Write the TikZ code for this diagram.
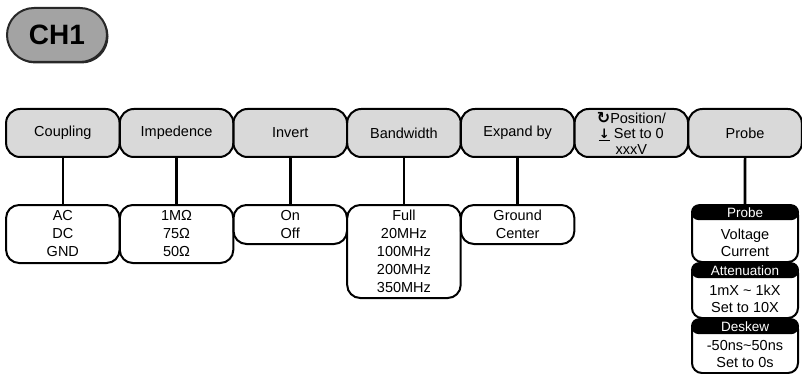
\documentclass[tikz,border=0pt]{standalone}
\usepackage{fontspec}
\setmainfont{Liberation Sans}
\newfontfamily\symfont{DejaVu Sans}
\usetikzlibrary{positioning,shadows}
\definecolor{keyfill}{RGB}{217,217,217}
\definecolor{chfill}{RGB}{163,163,163}
\definecolor{chedge}{RGB}{40,40,40}
\newcommand{\rotknob}{{\symfont\bfseries\fontsize{16}{15.5}\selectfont ↻}}
\newcommand{\setzero}{{\symfont\bfseries\fontsize{13}{15.5}\selectfont\underline{↓}}}

\begin{document}
\begin{tikzpicture}[x=1pt,y=-1pt,font=\fontsize{14.5}{18}\selectfont,
  menukey/.style={draw=black,line width=2pt,fill=keyfill,rounded corners=14pt,
    minimum width=113.5pt,minimum height=48pt,inner sep=0pt,align=center},
  optbox/.style={draw=black,line width=2pt,fill=white,rounded corners=13pt,
    minimum width=113.5pt,inner sep=0pt,align=center,anchor=north},
  probebox/.style={draw=black,line width=2pt,fill=white,rounded corners=10pt,
    minimum width=106pt,inner sep=0pt,anchor=north},
  probehead/.style={fill=black,text=white,rounded corners=8pt,minimum width=108pt,
    minimum height=16pt,inner sep=0pt,anchor=north,font=\fontsize{13.5}{15}\selectfont},
  probetext/.style={align=center,inner sep=0pt,font=\fontsize{14.5}{17}\selectfont},
  link/.style={line width=2.6pt}]
  \useasboundingbox (0,0) rectangle (802,374);

  % channel key
  \node[font=\bfseries\fontsize{28}{30}\selectfont,fill=chfill,draw=chedge,line width=2pt,
    rounded corners=27pt,minimum width=100pt,minimum height=54pt,
    drop shadow={shadow xshift=1.5pt,shadow yshift=-1.5pt,fill=chedge,opacity=1}]
    (ch1) at (57,35) {CH1};

  % soft menu keys
  \node[menukey] (coupling) at (62.85,133) {Coupling};
  \node[menukey] (impedence) at (176.55,133) {Impedence};
  \node[menukey] (invert) at (290.25,133) {Invert};
  \node[menukey] (bandwidth) at (403.95,133) {Bandwidth};
  \node[menukey] (expand) at (517.65,133) {Expand by};
  \node[menukey,font=\fontsize{14.5}{15.5}\selectfont] (position) at (631.35,133)
    {\rotknob Position/\\\setzero\ Set to 0\\xxxV};
  \node[menukey] (probe) at (745.05,133) {Probe};

  % option lists
  \node[optbox,minimum height=58pt] (couplingopt) at (62.85,204) {AC\\DC\\GND};
  \node[optbox,minimum height=58pt] (impedenceopt) at (176.55,204) {1MΩ\\75Ω\\50Ω};
  \node[optbox,minimum height=39pt] (invertopt) at (290.25,204) {On\\Off};
  \node[optbox,minimum height=93pt] (bandwidthopt) at (403.95,204) {Full\\20MHz\\100MHz\\200MHz\\350MHz};
  \node[optbox,minimum height=39pt] (expandopt) at (517.65,204) {Ground\\Center};

  % probe settings
  \node[probebox,minimum height=57pt] (probegrp) at (745,204) {};
  \node[probehead] (probehd) at (probegrp.north) {Probe};
  \node[probetext] (probeopt) at ([yshift=-9pt]probegrp.center) {Voltage\\Current};
  \node[probebox,minimum height=55pt] (attengrp) at (745,262) {};
  \node[probehead] (attenhd) at (attengrp.north) {Attenuation};
  \node[probetext] (attenopt) at ([yshift=-8pt]attengrp.center) {1mX \char`~{} 1kX\\Set to 10X};
  \node[probebox,minimum height=54pt] (deskewgrp) at (745,318) {};
  \node[probehead] (deskewhd) at (deskewgrp.north) {Deskew};
  \node[probetext] (deskewopt) at ([yshift=-8pt]deskewgrp.center) {-50ns\char`~50ns\\Set to 0s};

  \draw[link] (coupling) -- (couplingopt);
  \draw[link] (impedence) -- (impedenceopt);
  \draw[link] (invert) -- (invertopt);
  \draw[link] (bandwidth) -- (bandwidthopt);
  \draw[link] (expand) -- (expandopt);
  \draw[link] (probe) -- (probegrp);
\end{tikzpicture}
\end{document}
